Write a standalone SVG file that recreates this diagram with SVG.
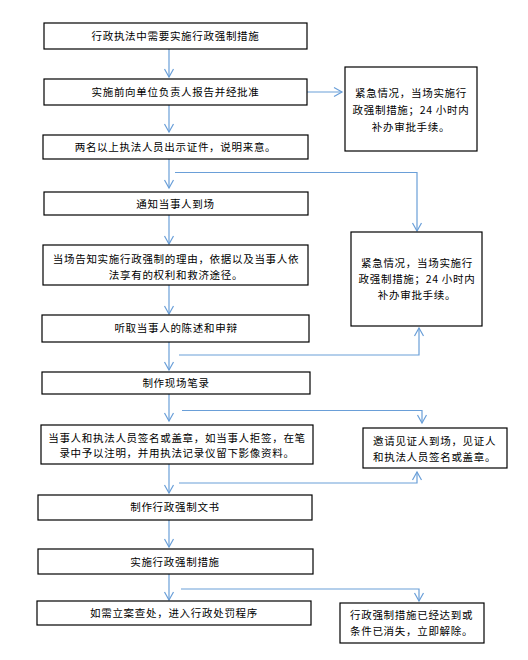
<svg xmlns="http://www.w3.org/2000/svg" width="528" height="660" viewBox="0 0 528 660">
<style>
.box{fill:#fff;stroke:#000;stroke-width:1.2}
.t{font-family:"Noto Sans CJK SC","Liberation Sans",sans-serif;font-size:10.5px;letter-spacing:0.7px;fill:#000}
.m{text-anchor:middle}
.c{fill:none;stroke:#6a9fd8;stroke-width:1.2}
</style>
<defs>
<marker id="ah" viewBox="-10 -6 12 12" refX="0" refY="0" markerWidth="12" markerHeight="12" markerUnits="userSpaceOnUse" orient="auto">
<path d="M-8,-4.5 L0,0 L-8,4.5" fill="none" stroke="#6a9fd8" stroke-width="1.2"/>
</marker>
</defs>
<rect width="528" height="660" fill="#fff"/>
<g id="connectors">
<line class="c" x1="169" y1="49" x2="169" y2="77" marker-end="url(#ah)"/>
<line class="c" x1="169" y1="105" x2="169" y2="132" marker-end="url(#ah)"/>
<line class="c" x1="307" y1="92" x2="342" y2="92" marker-end="url(#ah)"/>
<line class="c" x1="169" y1="159" x2="169" y2="188" marker-end="url(#ah)"/>
<polyline class="c" points="175,172.5 417,172.5 417,231" marker-end="url(#ah)"/>
<line class="c" x1="169" y1="215" x2="169" y2="244" marker-end="url(#ah)"/>
<line class="c" x1="169" y1="285" x2="169" y2="314" marker-end="url(#ah)"/>
<polyline class="c" points="179,355 419,355 419,328" marker-end="url(#ah)"/>
<line class="c" x1="169" y1="342" x2="169" y2="370" marker-end="url(#ah)"/>
<polyline class="c" points="182,410.5 422,410.5 422,423" marker-end="url(#ah)"/>
<line class="c" x1="169" y1="394" x2="169" y2="421" marker-end="url(#ah)"/>
<polyline class="c" points="179,483 417,483 417,472" marker-end="url(#ah)"/>
<line class="c" x1="169" y1="464" x2="169" y2="493" marker-end="url(#ah)"/>
<line class="c" x1="169" y1="520" x2="169" y2="547" marker-end="url(#ah)"/>
<line class="c" x1="169" y1="574" x2="169" y2="600" marker-end="url(#ah)"/>
<polyline class="c" points="181,589 419,589 419,601" marker-end="url(#ah)"/>
</g>
<g id="n1"><rect class="box" x="44" y="23" width="263" height="26"/><text class="t m" x="175.5" y="40">行政执法中需要实施行政强制措施</text></g>
<g id="n2"><rect class="box" x="44" y="79" width="263" height="26"/><text class="t m" x="175.5" y="96">实施前向单位负责人报告并经批准</text></g>
<g id="r1"><rect class="box" x="345" y="67" width="132" height="84"/>
<text class="t m" x="411" y="96.5">紧急情况，当场实施行</text>
<text class="t m" x="411" y="113.5">政强制措施；24 小时内</text>
<text class="t m" x="411" y="130.5">补办审批手续。</text></g>
<g id="n3"><rect class="box" x="43" y="135" width="265" height="24"/><text class="t m" x="175.5" y="151">两名以上执法人员出示证件，说明来意。</text></g>
<g id="n4"><rect class="box" x="44" y="192" width="264" height="23"/><text class="t m" x="175.5" y="207.5">通知当事人到场</text></g>
<g id="n5"><rect class="box" x="43" y="245" width="265" height="40"/>
<text class="t m" x="176" y="263">当场告知实施行政强制的理由，依据以及当事人依</text>
<text class="t m" x="176" y="278.5">法享有的权利和救济途径。</text></g>
<g id="r2"><rect class="box" x="351" y="232" width="131" height="94"/>
<text class="t m" x="417" y="267">紧急情况，当场实施行</text>
<text class="t m" x="417" y="283">政强制措施；24 小时内</text>
<text class="t m" x="417" y="299">补办审批手续。</text></g>
<g id="n6"><rect class="box" x="42" y="315" width="267" height="27"/><text class="t m" x="176" y="331.5">听取当事人的陈述和申辩</text></g>
<g id="n7"><rect class="box" x="42" y="372" width="268" height="22"/><text class="t m" x="176" y="386.5">制作现场笔录</text></g>
<g id="n8"><rect class="box" x="41" y="425" width="272" height="39"/>
<text class="t m" x="177" y="441.5">当事人和执法人员签名或盖章，如当事人拒签，在笔</text>
<text class="t m" x="177" y="456.5">录中予以注明，并用执法记录仪留下影像资料。</text></g>
<g id="r3"><rect class="box" x="363" y="428" width="144" height="40"/>
<text class="t" x="373" y="444.5">邀请见证人到场，见证人</text>
<text class="t" x="373" y="461">和执法人员签名或盖章。</text></g>
<g id="n9"><rect class="box" x="38" y="495" width="274" height="25"/><text class="t m" x="175" y="511">制作行政强制文书</text></g>
<g id="n10"><rect class="box" x="38" y="549" width="275" height="25"/><text class="t m" x="175" y="566">实施行政强制措施</text></g>
<g id="n11"><rect class="box" x="37" y="601" width="274" height="24"/><text class="t m" x="174" y="617">如需立案查处，进入行政处罚程序</text></g>
<g id="r4"><rect class="box" x="340" y="603" width="144" height="40"/>
<text class="t" x="350" y="619">行政强制措施已经达到或</text>
<text class="t" x="350" y="634.5">条件已消失，立即解除。</text></g>
</svg>
